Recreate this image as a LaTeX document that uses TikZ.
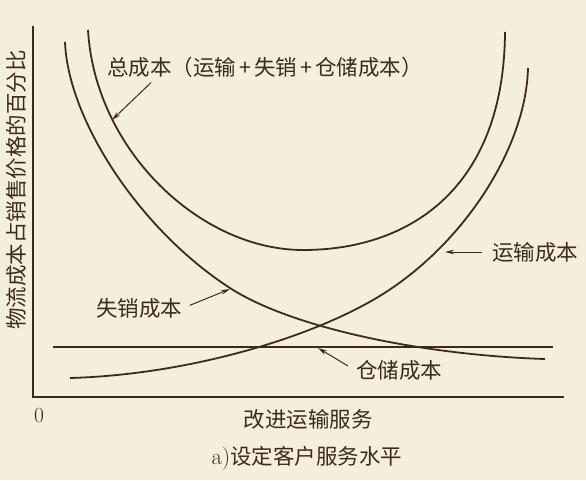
\documentclass[tikz,border=0pt]{standalone}
\usepackage{fontspec}
\newfontfamily\cjk{Noto Sans CJK SC}
\usetikzlibrary{arrows.meta}
\definecolor{fond}{RGB}{245,238,220}
\definecolor{encre}{RGB}{60,42,32}
\tikzset{
	courbe/.style={encre,line width=1.8pt},
	fleche/.style={encre,line width=1pt,-{Stealth[length=9pt,width=4.5pt]}},
	etiquette/.style={encre,inner sep=1pt,font=\cjk\fontsize{21.5}{24}\selectfont},
}
\begin{document}
\begin{tikzpicture}[x=1pt,y=-1pt]
	% Fond
	\fill[fond] (0,0) rectangle (586,480);
	\useasboundingbox (0,0) rectangle (586,480);
	
	% Axes
	\draw[encre,line width=1.3pt] (33,26) -- (33,397) -- (564,397);
	
	% Cout de stockage (droite)
	\draw[courbe] (53,347) -- (553,347);
	
	% Cout total
	\draw[courbe] (88,30) .. controls (95,150) and (200,250) .. (303,250)
		.. controls (410,250) and (504,188) .. (505,32);
	
	% Cout des ventes perdues
	\draw[courbe] (65,42) .. controls (68,120) and (140,230) .. (230,288)
		.. controls (290,327) and (420,355) .. (545,359);
	
	% Cout de transport
	\draw[courbe] (528,68) .. controls (526,150) and (460,250) .. (373,300)
		.. controls (300,342) and (180,375) .. (70,378);
	
	% Etiquettes
	\node[etiquette] (lblTotal) at (265,67) {总成本（运输\hspace{3pt}+\hspace{3pt}失销\hspace{3pt}+\hspace{3pt}仓储成本）};
	\node[etiquette] (lblTrans) at (535,252) {运输成本};
	\node[etiquette] (lblPerte) at (139,308) {失销成本};
	\node[etiquette] (lblStock) at (399,370) {仓储成本};
	
	% Axes : textes
	\node[etiquette,rotate=90] (lblY) at (16,190) {物流成本占销售价格的百分比};
	\node[etiquette] (lblX) at (308,419) {改进运输服务};
	\node[encre,inner sep=1pt,font=\fontsize{21.5}{24}\selectfont] (lblO) at (39,416) {0};
	\node[etiquette] (lblCap) at (307,458) {\rmfamily\fontsize{23}{24}\selectfont a)\cjk\fontsize{21.5}{24}\selectfont 设定客户服务水平};
	
	% Fleches
	\coordinate (pTotal) at (112,120);
	\coordinate (pTrans) at (445,252);
	\coordinate (pPerte) at (230,289);
	\coordinate (pStock) at (318,348);
	\draw[fleche] ([shift={(45pt,-4pt)}]lblTotal.south west) -- (pTotal);
	\draw[fleche,shorten <=9pt] (lblTrans.west) -- (pTrans);
	\draw[fleche,shorten <=7pt] (lblPerte.east) -- (pPerte);
	\draw[fleche,shorten <=8pt] (lblStock.west) -- (pStock);
\end{tikzpicture}
\end{document}
